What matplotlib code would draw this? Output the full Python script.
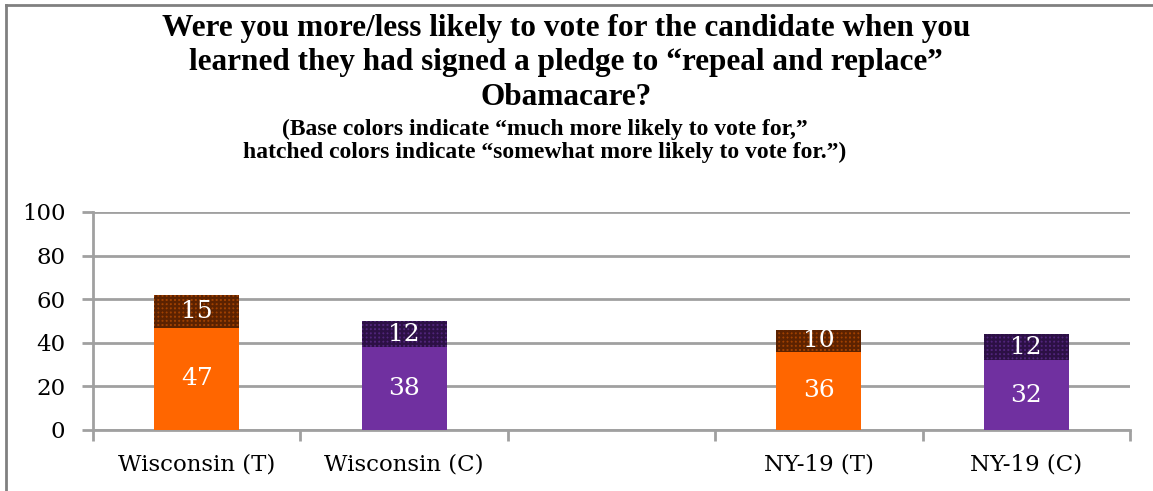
import matplotlib
matplotlib.use("Agg")
import matplotlib.pyplot as plt
from matplotlib.lines import Line2D
import numpy as np

categories = ["Wisconsin (T)", "Wisconsin (C)", "", "NY-19 (T)", "NY-19 (C)"]
much_more = [47, 38, None, 36, 32]
somewhat_more = [15, 12, None, 10, 12]
base_colors = ["#FF6600", "#7030A0", None, "#FF6600", "#7030A0"]
hatch_face = ["#A04000", "#50247A", None, "#A04000", "#50247A"]
hatch_edge = ["#5C2200", "#2C1045", None, "#5C2200", "#2C1045"]
yticks = [0, 20, 40, 60, 80, 100]

title = ("Were you more/less likely to vote for the candidate when you\n"
         "learned they had signed a pledge to \u201crepeal and replace\u201d\n"
         "Obamacare?")
subtitle = ("(Base colors indicate \u201cmuch more likely to vote for,\u201d\n"
            "hatched colors indicate \u201csomewhat more likely to vote for.\u201d)")

plt.rcParams['hatch.linewidth'] = 1.6
fig = plt.figure(figsize=(11.53, 4.91), dpi=100)
ax = fig.add_axes([93/1153, 61/491, (1130-93)/1153, (430-212)/491])

x = np.arange(len(categories))
bw = 0.41
for i in range(len(categories)):
    if much_more[i] is None:
        continue
    ax.bar(x[i], much_more[i], bw, color=base_colors[i], zorder=3)
    ax.bar(x[i], somewhat_more[i], bw, bottom=much_more[i], facecolor=hatch_face[i],
           edgecolor=hatch_edge[i], hatch='++++', linewidth=0, zorder=3)
    ax.text(x[i], much_more[i] / 2, str(much_more[i]), ha='center', va='center',
            color='white', fontsize=18, family='DejaVu Serif', zorder=4)
    ax.text(x[i], much_more[i] + somewhat_more[i] / 2, str(somewhat_more[i]), ha='center',
            va='center', color='white', fontsize=18, family='DejaVu Serif', zorder=4)

ax.set_xlim(-0.5, len(categories) - 0.5)
ax.set_ylim(0, 100)
ax.set_yticks(yticks)
ax.set_yticklabels([str(v) for v in yticks], family='DejaVu Serif', fontsize=16.5)
ax.yaxis.grid(True, color='#A0A0A0', linewidth=2, zorder=0)
ax.set_axisbelow(True)

ax.set_xticks(x)
ax.set_xticklabels(categories, family='DejaVu Serif', fontsize=16.5)
ax.set_xticks(np.arange(-0.5, len(categories)), minor=True)
ax.tick_params(axis='x', which='major', length=0, pad=17)
ax.tick_params(axis='x', which='minor', length=8, width=2, color='#A0A0A0', direction='out')
ax.tick_params(axis='y', length=8, width=2, color='#A0A0A0', direction='out', pad=12)

for s in ['top', 'right']:
    ax.spines[s].set_visible(False)
for s in ['left', 'bottom']:
    ax.spines[s].set_color('#A0A0A0')
    ax.spines[s].set_linewidth(2)

fig.text(566/1153, 1 - 14/491, title, ha='center', va='top', fontsize=22.5,
         fontweight='bold', family='Liberation Serif', linespacing=1.24)
fig.text(545/1153, 1 - 119/491, subtitle, ha='center', va='top', fontsize=17,
         fontweight='bold', family='Liberation Serif', linespacing=1.12)

fig.add_artist(Line2D([6/1153, 1], [1 - 5/491, 1 - 5/491], color='#808080', linewidth=2))
fig.add_artist(Line2D([6/1153, 6/1153], [0, 1 - 5/491], color='#808080', linewidth=2))

fig.savefig("out.png", dpi=100)
